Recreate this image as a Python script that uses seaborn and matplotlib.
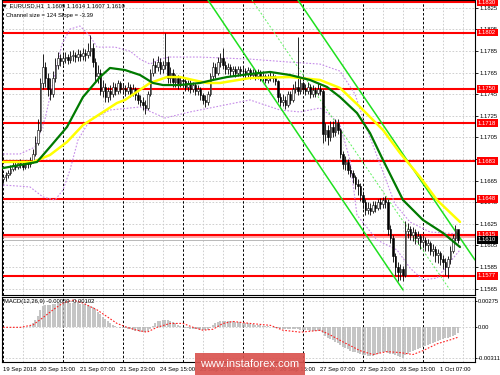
import numpy as np
import matplotlib
matplotlib.use("Agg")
import matplotlib.pyplot as plt
import matplotlib.transforms as mtransforms
from matplotlib.patches import Rectangle
from matplotlib import font_manager as fm
import seaborn as sns

# ---------------- data ----------------
open0 = 1.1666
closes = [
    1.1668, 1.1670, 1.1672, 1.1676, 1.1679, 1.1678, 1.1681, 1.1680, 1.1678, 1.1681,
    1.1680, 1.1683, 1.1690, 1.1700, 1.1712, 1.1755, 1.1770, 1.1760, 1.1750, 1.1745,
    1.1760, 1.1772, 1.1778, 1.1776, 1.1778, 1.1779, 1.1777, 1.1780, 1.1781, 1.1779,
    1.1782, 1.1780, 1.1783, 1.1781, 1.1785, 1.1788, 1.1775, 1.1762, 1.1765, 1.1748,
    1.1752, 1.1742, 1.1748, 1.1745, 1.1752, 1.1748, 1.1755, 1.1750, 1.1750, 1.1748,
    1.1752, 1.1746, 1.1750, 1.1744, 1.1740, 1.1738, 1.1735, 1.1732, 1.1745, 1.1765,
    1.1772, 1.1770, 1.1775, 1.1768, 1.1772, 1.1775, 1.1760, 1.1765, 1.1756, 1.1760,
    1.1755, 1.1758, 1.1757, 1.1752, 1.1755, 1.1750, 1.1753, 1.1748, 1.1750, 1.1744,
    1.1740, 1.1738, 1.1745, 1.1762, 1.1770, 1.1765, 1.1775, 1.1778, 1.1772, 1.1768,
    1.1770, 1.1766, 1.1768, 1.1765, 1.1768, 1.1766, 1.1766, 1.1764, 1.1767, 1.1763,
    1.1765, 1.1762, 1.1765, 1.1760, 1.1762, 1.1758, 1.1760, 1.1762, 1.1760, 1.1757,
    1.1742, 1.1738, 1.1740, 1.1735, 1.1745, 1.1740, 1.1750, 1.1752, 1.1748, 1.1755,
    1.1750, 1.1748, 1.1752, 1.1745, 1.1749, 1.1746, 1.1750, 1.1748, 1.1708, 1.1712,
    1.1705, 1.1715, 1.1710, 1.1718, 1.1712, 1.1690, 1.1680, 1.1682, 1.1675, 1.1672,
    1.1668, 1.1662, 1.1660, 1.1652, 1.1645, 1.1638, 1.1640, 1.1637, 1.1642, 1.1640,
    1.1645, 1.1643, 1.1647, 1.1645, 1.1620, 1.1612, 1.1595, 1.1585, 1.1580, 1.1583,
    1.1578, 1.1618, 1.1620, 1.1615, 1.1617, 1.1612, 1.1614, 1.1608, 1.1610, 1.1605,
    1.1607, 1.1600, 1.1602, 1.1596, 1.1598, 1.1592, 1.1590, 1.1585, 1.1592, 1.1600,
    1.1612, 1.1620, 1.1610,
]
highs = [
    1.1671, 1.1673, 1.1675, 1.1679, 1.1682, 1.1683, 1.1684, 1.1685, 1.1682, 1.1684,
    1.1684, 1.1687, 1.1694, 1.1706, 1.1722, 1.1760, 1.1782, 1.1775, 1.1765, 1.1760,
    1.1766, 1.1778, 1.1784, 1.1782, 1.1783, 1.1784, 1.1782, 1.1785, 1.1786, 1.1784,
    1.1787, 1.1786, 1.1788, 1.1787, 1.1792, 1.1800, 1.1792, 1.1778, 1.1772, 1.1768,
    1.1758, 1.1755, 1.1752, 1.1753, 1.1756, 1.1755, 1.1758, 1.1757, 1.1755, 1.1753,
    1.1756, 1.1754, 1.1754, 1.1752, 1.1747, 1.1744, 1.1742, 1.1740, 1.1748, 1.1768,
    1.1778, 1.1776, 1.1780, 1.1778, 1.1776, 1.1802, 1.1780, 1.1770, 1.1768, 1.1764,
    1.1763, 1.1762, 1.1762, 1.1760, 1.1758, 1.1758, 1.1756, 1.1755, 1.1753, 1.1752,
    1.1746, 1.1744, 1.1748, 1.1765, 1.1775, 1.1774, 1.1779, 1.1783, 1.1788, 1.1776,
    1.1774, 1.1773, 1.1771, 1.1771, 1.1771, 1.1771, 1.1770, 1.1769, 1.1770, 1.1769,
    1.1768, 1.1767, 1.1768, 1.1767, 1.1766, 1.1764, 1.1764, 1.1766, 1.1765, 1.1763,
    1.1758, 1.1746, 1.1745, 1.1743, 1.1748, 1.1748, 1.1754, 1.1757, 1.1798, 1.1760,
    1.1757, 1.1754, 1.1756, 1.1754, 1.1753, 1.1752, 1.1755, 1.1753, 1.1750, 1.1718,
    1.1716, 1.1720, 1.1720, 1.1722, 1.1722, 1.1714, 1.1692, 1.1688, 1.1685, 1.1679,
    1.1675, 1.1670, 1.1666, 1.1663, 1.1655, 1.1648, 1.1645, 1.1644, 1.1646, 1.1646,
    1.1648, 1.1649, 1.1650, 1.1651, 1.1648, 1.1624, 1.1615, 1.1598, 1.1590, 1.1588,
    1.1586, 1.1628, 1.1626, 1.1623, 1.1622, 1.1620, 1.1618, 1.1616, 1.1615, 1.1613,
    1.1611, 1.1609, 1.1606, 1.1604, 1.1602, 1.1600, 1.1596, 1.1593, 1.1595, 1.1604,
    1.1616, 1.1624, 1.1614,
]
lows = [
    1.1663, 1.1665, 1.1667, 1.1670, 1.1674, 1.1675, 1.1676, 1.1677, 1.1675, 1.1676,
    1.1677, 1.1678, 1.1681, 1.1688, 1.1698, 1.1710, 1.1750, 1.1752, 1.1743, 1.1740,
    1.1742, 1.1756, 1.1768, 1.1771, 1.1772, 1.1774, 1.1773, 1.1774, 1.1776, 1.1775,
    1.1776, 1.1776, 1.1777, 1.1776, 1.1778, 1.1780, 1.1770, 1.1756, 1.1755, 1.1744,
    1.1742, 1.1738, 1.1738, 1.1740, 1.1742, 1.1744, 1.1745, 1.1746, 1.1745, 1.1743,
    1.1745, 1.1742, 1.1743, 1.1740, 1.1736, 1.1734, 1.1730, 1.1727, 1.1730, 1.1743,
    1.1762, 1.1765, 1.1766, 1.1764, 1.1765, 1.1768, 1.1755, 1.1755, 1.1752, 1.1752,
    1.1750, 1.1752, 1.1752, 1.1748, 1.1748, 1.1746, 1.1747, 1.1744, 1.1744, 1.1740,
    1.1736, 1.1733, 1.1735, 1.1743, 1.1758, 1.1760, 1.1763, 1.1770, 1.1768, 1.1764,
    1.1764, 1.1762, 1.1762, 1.1761, 1.1762, 1.1762, 1.1761, 1.1760, 1.1761, 1.1759,
    1.1760, 1.1758, 1.1759, 1.1757, 1.1757, 1.1755, 1.1755, 1.1757, 1.1756, 1.1753,
    1.1738, 1.1734, 1.1734, 1.1731, 1.1733, 1.1736, 1.1738, 1.1746, 1.1744, 1.1745,
    1.1746, 1.1744, 1.1745, 1.1741, 1.1742, 1.1742, 1.1744, 1.1744, 1.1700, 1.1702,
    1.1698, 1.1702, 1.1705, 1.1706, 1.1708, 1.1686, 1.1676, 1.1675, 1.1671, 1.1668,
    1.1663, 1.1657, 1.1652, 1.1646, 1.1639, 1.1633, 1.1634, 1.1633, 1.1635, 1.1636,
    1.1638, 1.1639, 1.1640, 1.1640, 1.1615, 1.1607, 1.1590, 1.1578, 1.1572, 1.1573,
    1.1572, 1.1576, 1.1612, 1.1610, 1.1609, 1.1606, 1.1606, 1.1602, 1.1603, 1.1600,
    1.1600, 1.1596, 1.1595, 1.1590, 1.1589, 1.1587, 1.1583, 1.1578, 1.1575, 1.1588,
    1.1598, 1.1609, 1.1607,
]

# moving averages (bar index, price) knots
ma_green_t = [0, 13.6, 18.8, 25.6, 32, 38.8, 42.8, 48.8, 54.8, 60, 64, 70.8, 78.8, 84, 89.6,
              98.8, 106.8, 114.8, 122.8, 129.6, 134.8, 141.6, 146.8, 152, 160, 168, 176, 182.8]
ma_green_p = [1.16766, 1.16822, 1.16961, 1.17146, 1.17423, 1.17608, 1.17692, 1.17673, 1.17627,
              1.17553, 1.17534, 1.17534, 1.17553, 1.17581, 1.17608, 1.17636, 1.17655, 1.17627,
              1.17581, 1.17516, 1.17423, 1.17275, 1.17090, 1.16840, 1.16470, 1.16285, 1.16165,
              1.16035]
ma_yellow_t = [0, 12, 18.8, 25.6, 32, 38.8, 45.6, 48.8, 58.8, 65.6, 70.8, 76, 81.6, 86.8, 98.8,
               114.8, 126.8, 134.8, 142.8, 152, 158.8, 166.8, 173.6, 182.8]
ma_yellow_p = [1.16822, 1.16822, 1.16887, 1.17007, 1.17164, 1.17266, 1.17368, 1.17396, 1.17553,
               1.17608, 1.17608, 1.17581, 1.17553, 1.17553, 1.17599, 1.17608, 1.17581, 1.17507,
               1.17331, 1.17118, 1.16905, 1.16683, 1.16470, 1.16267]

# bands (violet dotted)
band_up_t = [0, 6.8, 12.8, 16.8, 20.8, 23.6, 26.8, 30.8, 34.8, 37.6, 44.8, 50.8, 54.8, 58.8,
             62.8, 66.8, 78.8, 98.8, 114.8, 126.8, 134.8, 140.8, 144.8, 150.8, 156.8, 162.8,
             170.8, 182.8]
band_up_p = [1.16896, 1.16896, 1.16960, 1.17219, 1.17636, 1.17913, 1.18052, 1.18080, 1.17987,
             1.17885, 1.17885, 1.17848, 1.17774, 1.17728, 1.17774, 1.17793, 1.17793, 1.17774,
             1.17746, 1.17728, 1.17663, 1.17450, 1.17173, 1.16803, 1.16433, 1.16266, 1.16174,
             1.16155]
band_lo_t = [0, 10.8, 16, 20.8, 24, 26.8, 30, 34.8, 42.8, 54.8, 64.8, 74.8, 84.8, 98.8, 110.8,
             118.8, 126.8, 130.8, 134.8, 138.8, 141.6, 149.6, 157.6, 162.8, 168, 173.6, 178.8,
             182.8]
band_lo_p = [1.16609, 1.16591, 1.16498, 1.16470, 1.16563, 1.16748, 1.17026, 1.17210, 1.17303,
             1.17331, 1.17229, 1.17285, 1.17331, 1.17396, 1.17303, 1.17285, 1.17322, 1.17257,
             1.17164, 1.16840, 1.16331, 1.16100, 1.16008, 1.15841, 1.15730, 1.15748, 1.15897,
             1.16008]

# regression channel (bar index, price) end points
chan_a_t, chan_a_p = [82, 160], [1.18321, 1.15638]
chan_b_t, chan_b_p = [118, 188.8], [1.18321, 1.15915]
chan_c_t, chan_c_p = [99.6, 178.8], [1.18321, 1.15638]

levels = [1.1830, 1.1802, 1.1750, 1.1718, 1.1683, 1.1648, 1.1615, 1.1577]
current_price = 1.1610
price_ticks = [1.1825, 1.1805, 1.1785, 1.1765, 1.1745, 1.1725, 1.1705, 1.1685, 1.1665,
               1.1645, 1.1625, 1.1605, 1.1585, 1.1565]

# MACD histogram in 1e-5 units, one per bar
macd_hist = [
    0, 0, 0, 1, 1, 2, 2, 3, 3, 5, 8, 10, 45, 80, 120, 180, 215, 225, 230, 232,
    238, 243, 248, 250, 252, 253, 252, 250, 250, 250, 248, 245, 240, 235, 228, 220, 205, 185, 160, 135,
    110, 85, 60, 40, 25, 12, 3, -5, -10, -12, -18, -22, -28, -35, -40, -45, -48, -50, -40, -15,
    15, 40, 60, 70, 75, 78, 72, 65, 55, 40, 25, 12, 0, -8, -12, -15, -18, -20, -22, -25,
    -28, -30, -25, -5, 20, 40, 55, 62, 65, 65, 63, 62, 60, 58, 55, 50, 45, 42, 40, 35,
    30, 25, 22, 20, 18, 15, 10, 5, 0, -5, -12, -18, -20, -22, -20, -18, -18, -20, -22, -25,
    -28, -30, -32, -35, -36, -38, -40, -42, -60, -90, -110, -125, -135, -150, -165, -185, -200, -215, -228, -240,
    -250, -258, -265, -272, -280, -288, -295, -300, -292, -280, -270, -262, -255, -255, -262, -270, -278, -290, -300, -308,
    -311, -290, -270, -255, -240, -230, -220, -212, -200, -190, -180, -170, -160, -150, -140, -130, -122, -115, -108, -100,
    -90, -75, -59,
]
sig_t = [0, 7, 12, 16, 20, 24, 28, 32, 37.6, 41.6, 45.6, 49.6, 53.6, 57.6, 61.6, 66.8, 72, 76, 80,
         84, 88, 92, 98.8, 107, 112, 119, 127, 131, 136, 142.8, 148, 153.6, 158.8, 164, 168,
         173.6, 178.8, 182]
sig_v = [0, 0, 0.00025, 0.001, 0.0018, 0.0025, 0.0028, 0.0025, 0.0018, 0.0011, 0.0004, 0,
         -0.0003, -0.0005, 0, 0.0004, 0.0004, 0, -0.0003, -0.0002, 0.0004, 0.0006, 0.0004,
         0.0002, -0.0003, -0.0005, -0.0003, -0.0008, -0.0015, -0.0024, -0.0028, -0.0025,
         -0.0026, -0.0028, -0.0024, -0.0017, -0.0013, -0.00102]
macd_ticks = [0.00275, 0.0, -0.00311]
macd_ticklabels = ["0.00275", "0.00", "-0.00311"]

xtick_pos = [0, 15, 31, 47, 63, 79, 95, 111, 127, 143, 159, 175]
xtick_labels = ["19 Sep 2018", "20 Sep 15:00", "21 Sep 07:00", "21 Sep 23:00", "24 Sep 15:00",
                "25 Sep 07:00", "25 Sep 23:00", "26 Sep 15:00", "27 Sep 07:00", "27 Sep 23:00",
                "28 Sep 15:00", "1 Oct 07:00"]

# ---------------- styling ----------------
sns.set_style("white")
names = {f.name for f in fm.fontManager.ttflist}
if "Liberation Sans Narrow" in names:
    FAM = ["Liberation Sans Narrow", "DejaVu Sans"]
    FS = 5.0
else:
    FAM = ["Liberation Sans", "DejaVu Sans"]
    FS = 4.2
plt.rcParams["font.family"] = FAM

W, H = 500, 375
fig = plt.figure(figsize=(5, 3.75), dpi=100)
fig.patch.set_facecolor("white")


def px_axes(l, t, r, b):
    return fig.add_axes([l / W, 1 - b / H, (r - l) / W, (b - t) / H])


ax = px_axes(2, 0, 475, 295)
ax2 = px_axes(2, 297, 475, 362)
XL = (-0.4, 188.8)

for a in (ax, ax2):
    a.set_facecolor("white")
    a.set_xlim(*XL)
    for s in a.spines.values():
        s.set_color("black")
        s.set_linewidth(0.8)
    for tt in range(0, 189, 8):
        if tt % 24 == 0:
            a.axvline(tt, color="black", lw=0.7, ls=(0, (2.5, 2)), zorder=0.6)
        else:
            a.axvline(tt, color="#c8c8c8", lw=0.6, ls=(0, (2, 2)), zorder=0.5)

ax.set_ylim(1.15591, 1.18321)
ax2.set_ylim(-0.00357, 0.00312)

for p in price_ticks:
    ax.axhline(p, color="#c8c8c8", lw=0.6, ls=(0, (2, 2)), zorder=0.5)
for v in macd_ticks:
    ax2.axhline(v, color="#c8c8c8", lw=0.6, ls=(0, (2, 2)), zorder=0.5)

for lv in levels:
    ax.axhline(lv, color="#ff0000", lw=1.5, zorder=1.2)
ax.axhline(1.1613, color="#ff9a9a", lw=1.2, zorder=1.1)
ax.axhline(current_price, color="#b8b8b8", lw=0.7, zorder=1.1)

sns.lineplot(x=band_up_t, y=band_up_p, ax=ax, color="#c58be8", lw=0.8, ls=(0, (1.5, 1.5)),
             estimator=None, sort=False, zorder=1.5)
sns.lineplot(x=band_lo_t, y=band_lo_p, ax=ax, color="#c58be8", lw=0.8, ls=(0, (1.5, 1.5)),
             estimator=None, sort=False, zorder=1.5)

sns.lineplot(x=chan_a_t, y=chan_a_p, ax=ax, color="#1ee01e", lw=1.1, estimator=None, sort=False, zorder=3)
sns.lineplot(x=chan_b_t, y=chan_b_p, ax=ax, color="#1ee01e", lw=1.1, estimator=None, sort=False, zorder=3)
sns.lineplot(x=chan_c_t, y=chan_c_p, ax=ax, color="#5ef05e", lw=0.7, ls=(0, (2, 2)),
             estimator=None, sort=False, zorder=3)

t = np.arange(len(closes))
c = np.array(closes)
o = np.r_[open0, c[:-1]]
hi = np.array(highs)
lo = np.array(lows)
ax.vlines(t, lo, hi, color="black", lw=0.6, zorder=4)
up = c >= o
bot = np.minimum(o, c)
hgt = np.maximum(np.abs(c - o), 0.00004)
ax.bar(t[up], hgt[up], bottom=bot[up], width=0.65, color="white", edgecolor="black", lw=0.4, zorder=5)
ax.bar(t[~up], hgt[~up], bottom=bot[~up], width=0.65, color="black", edgecolor="black", lw=0.4, zorder=5)

sns.lineplot(x=ma_yellow_t, y=ma_yellow_p, ax=ax, color="#ffff00", lw=1.8, estimator=None, sort=False, zorder=6)
sns.lineplot(x=ma_green_t, y=ma_green_p, ax=ax, color="#007a00", lw=1.6, estimator=None, sort=False, zorder=6.5)

# price axis: tick labels hidden behind a level box are left out
shown_ticks = [p for p in price_ticks if min(abs(p - lv) for lv in levels) >= 0.00025]
ax.yaxis.tick_right()
ax.set_yticks(price_ticks)
ax.set_yticklabels([f"{p:.4f}" if p in shown_ticks else "" for p in price_ticks])
ax.tick_params(axis="y", labelsize=FS, length=2, pad=1.5, width=0.6, colors="black", direction="out")
ax.set_xticks([])
ax.set_xlabel("")
ax.set_ylabel("")

blend = mtransforms.blended_transform_factory(ax.transAxes, ax.transData)
xt = (478 - 2) / 473
for lv in levels:
    ax.text(xt, lv, f"{lv:.4f}", transform=blend, ha="left", va="center", fontsize=FS,
            color="white", clip_on=False, zorder=20,
            bbox=dict(boxstyle="square,pad=0.25", fc="#ff0000", ec="none"))
ax.text(xt, current_price, f"{current_price:.4f}", transform=blend, ha="left", va="center",
        fontsize=FS, color="white", clip_on=False, zorder=21,
        bbox=dict(boxstyle="square,pad=0.25", fc="black", ec="none"))

# MACD panel
ax2.vlines(t, 0, np.array(macd_hist) * 1e-5, lw=1.1, color="#b4b4b4", zorder=2)
sns.lineplot(x=sig_t, y=sig_v, ax=ax2, color="#ff2020", lw=0.8, ls=(0, (1.5, 1.5)),
             estimator=None, sort=False, zorder=3)
ax2.yaxis.tick_right()
ax2.set_yticks(macd_ticks)
ax2.set_yticklabels(macd_ticklabels)
ax2.tick_params(axis="y", labelsize=FS, length=1.5, pad=0.8, width=0.6, colors="black")
ax2.set_xticks(xtick_pos)
ax2.set_xticklabels(xtick_labels, ha="left")
ax2.tick_params(axis="x", labelsize=FS, length=2, pad=1.5, width=0.6, colors="black", direction="out")
ax2.set_xlabel("")
ax2.set_ylabel("")

fig.text(2 / W, 1 - 6 / H, "\u25bc EURUSD,H1  1.1609 1.1614 1.1607 1.1610", fontsize=FS,
         va="center", ha="left", color="black", family=FAM)
fig.text(6 / W, 1 - 16 / H, "Channel size = 124 Slope = -3.39", fontsize=FS,
         va="center", ha="left", color="black")
fig.text(4 / W, 1 - 302 / H, "MACD(12,26,9) -0.00059 -0.00102", fontsize=FS,
         va="center", ha="left", color="black")

# watermark
fig.patches.append(Rectangle((195 / W, 0), 110 / W, 22 / H, transform=fig.transFigure,
                             fc="#d9534f", ec="none", alpha=0.92, zorder=30))
fig.text(250 / W, 1 - 364 / H, "www.instaforex.com", fontsize=8.0, color="white",
         ha="center", va="center", family=["Liberation Sans", "DejaVu Sans"], zorder=31)

fig.savefig("out.png", dpi=100, facecolor="white")
